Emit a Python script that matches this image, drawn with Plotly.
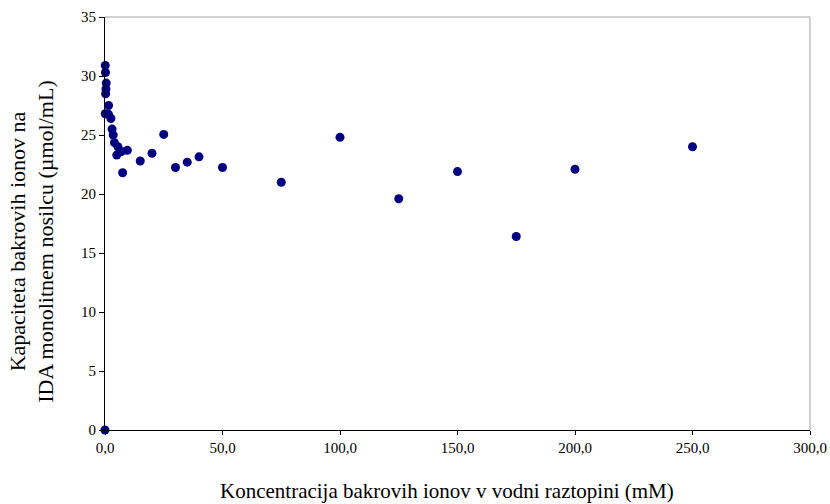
import plotly.graph_objects as go

# Copper ion concentration in aqueous solution (mM)
koncentracija = [0, 0.1, 0.2, 0.5, 0.4, 0.25, 1.5, 0.1, 1.5, 2.5, 3.0, 3.5, 4.0,
                 5.5, 5.0, 7.0, 9.5, 7.5, 15, 20, 25, 30, 35, 40, 50,
                 75, 100, 125, 150, 175, 200, 250]
# Binding capacity of the IDA monolith (µmol/mL)
kapaciteta = [0, 30.9, 30.3, 29.4, 28.9, 28.5, 27.5, 26.8, 26.75, 26.4, 25.5, 25.0, 24.35,
              24.0, 23.3, 23.6, 23.7, 21.8, 22.8, 23.45, 25.05, 22.25, 22.7, 23.15, 22.25,
              21.0, 24.8, 19.6, 21.9, 16.4, 22.1, 24.0]

x_ticks = [0, 50, 100, 150, 200, 250, 300]
x_labels = ["0,0", "50,0", "100,0", "150,0", "200,0", "250,0", "300,0"]
y_ticks = [0, 5, 10, 15, 20, 25, 30, 35]

x_title = "Koncentracija bakrovih ionov v vodni raztopini (mM)"
y_title = "Kapaciteta bakrovih ionov na<br>IDA monolitnem nosilcu (µmol/mL)"

font_family = "Liberation Serif, Times New Roman, serif"

fig = go.Figure()
fig.add_trace(go.Scatter(
    x=koncentracija, y=kapaciteta, mode="markers",
    marker=dict(color="#000080", size=9, line=dict(width=0)),
    cliponaxis=False, showlegend=False,
))

fig.update_layout(
    width=830, height=504,
    margin=dict(l=105, r=20, t=17, b=74),
    paper_bgcolor="white", plot_bgcolor="white",
    font=dict(family=font_family, size=15, color="black"),
    xaxis=dict(
        range=[0, 300], tickvals=x_ticks, ticktext=x_labels,
        showgrid=False, zeroline=False, automargin=False,
        showline=True, linecolor="black", linewidth=1,
        ticks="outside", ticklen=4, tickcolor="black",
    ),
    yaxis=dict(
        range=[0, 35], tickvals=y_ticks,
        showgrid=False, zeroline=False, automargin=False,
        showline=True, linecolor="black", linewidth=1,
        ticks="outside", ticklen=5, tickcolor="black",
    ),
    annotations=[
        dict(text=x_title, xref="paper", yref="paper", x=0.485, y=-0.148,
             xanchor="center", yanchor="middle", showarrow=False,
             font=dict(size=21)),
        dict(text=y_title, xref="paper", yref="paper", x=-0.104, y=0.455,
             xanchor="center", yanchor="middle", showarrow=False,
             textangle=-90, font=dict(size=22)),
    ],
    shapes=[
        dict(type="line", xref="paper", yref="paper", x0=0, x1=1, y0=1, y1=1,
             line=dict(color="#c0c0c0", width=1.5)),
        dict(type="line", xref="paper", yref="paper", x0=1, x1=1, y0=0, y1=1,
             line=dict(color="#c0c0c0", width=1.5)),
    ],
)

fig.write_html("out.html")
